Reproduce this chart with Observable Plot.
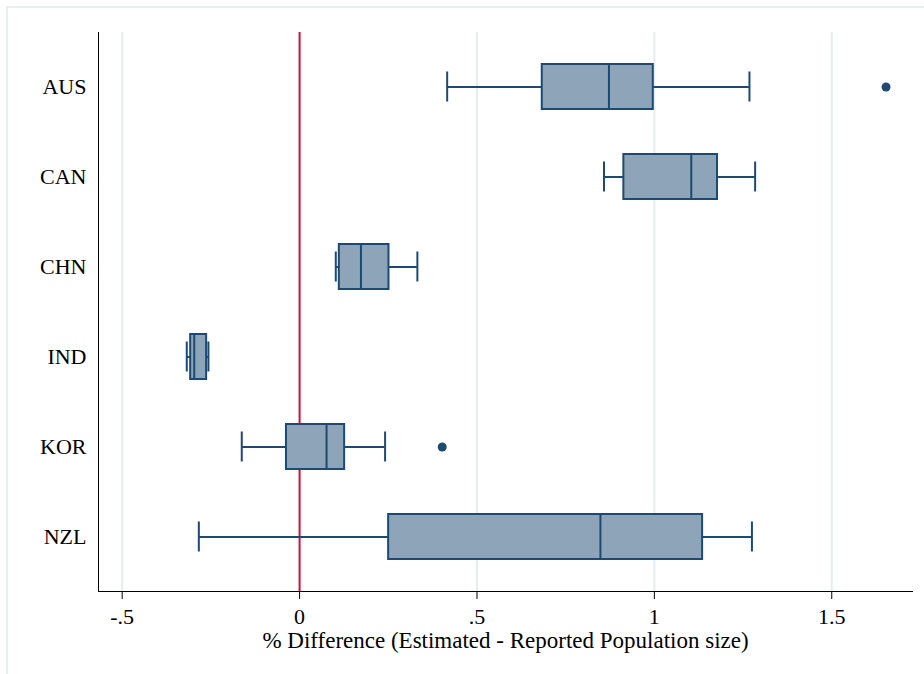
<!DOCTYPE html>
<html>
<head>
<meta charset="utf-8">
<script src="https://cdn.jsdelivr.net/npm/d3@7"></script>
<script src="https://cdn.jsdelivr.net/npm/@observablehq/plot@0.6"></script>
<style>
  html, body { margin: 0; padding: 0; background: #fff; overflow: hidden; }
  #border { position: absolute; left: 6px; top: 6px; width: 2000px; height: 2000px; border: 2px solid #e8eff2; }
  #chart { position: absolute; left: 0; top: 0; }
  #chart svg, #chart svg text { font-family: "Liberation Serif", Tinos, "Times New Roman", serif !important; font-size: 22px; fill: #000; }
  #chart svg text.title { font-size: 23px; }
</style>
</head>
<body>
<div id="border"></div>
<div id="chart"></div>
<script>
const countries = ["AUS", "CAN", "CHN", "IND", "KOR", "NZL"];
const whiskerLow = [0.416, 0.858, 0.102, -0.318, -0.163, -0.284];
const q1 = [0.684, 0.914, 0.112, -0.307, -0.037, 0.251];
const median = [0.872, 1.104, 0.173, -0.297, 0.076, 0.848];
const q3 = [0.997, 1.178, 0.252, -0.262, 0.127, 1.136];
const whiskerHigh = [1.268, 1.284, 0.332, -0.257, 0.241, 1.275];
const outlierCountries = ["AUS", "KOR"];
const outlierValues = [1.653, 0.402];
const xTicks = [-0.5, 0, 0.5, 1, 1.5];
const xTickLabels = ["-.5", "0", ".5", "1", "1.5"];
const gridValues = [-0.5, 0.5, 1, 1.5];
const xTitle = "% Difference (Estimated - Reported Population size)";

const boxes = countries.map((c, i) => ({
  country: c, lo: whiskerLow[i], q1: q1[i], med: median[i], q3: q3[i], hi: whiskerHigh[i]
}));
const outliers = outlierCountries.map((c, i) => ({country: c, value: outlierValues[i]}));

const navy = "#1c4a72";
const fill = "#8ea4b9";

const chart = Plot.plot({
  width: 924,
  height: 674,
  marginLeft: 98,
  marginRight: 12,
  marginTop: 32,
  marginBottom: 83,
  style: {fontSize: "22px", color: "#000", background: "transparent"},
  x: {
    domain: [-0.5668, 1.7276],
    ticks: xTicks,
    tickFormat: (d) => xTickLabels[xTicks.indexOf(d)],
    tickSize: 8,
    tickPadding: 9,
    line: true,
    label: null
  },
  y: {
    domain: countries,
    type: "band",
    paddingInner: 0.5,
    paddingOuter: 0.355,
    tickSize: 0,
    tickPadding: 12,
    line: true,
    label: null
  },
  marks: [
    Plot.ruleX(gridValues, {stroke: "#e4eef1", strokeWidth: 2}),
    Plot.ruleX([0], {stroke: "#c8143c", strokeWidth: 2}),
    Plot.ruleY(boxes, {y: "country", x1: "lo", x2: "q1", stroke: navy, strokeWidth: 2}),
    Plot.ruleY(boxes, {y: "country", x1: "q3", x2: "hi", stroke: navy, strokeWidth: 2}),
    Plot.tickX(boxes, {x: "lo", y: "country", stroke: navy, strokeWidth: 2, insetTop: 7.5, insetBottom: 7.5}),
    Plot.tickX(boxes, {x: "hi", y: "country", stroke: navy, strokeWidth: 2, insetTop: 7.5, insetBottom: 7.5}),
    Plot.barX(boxes, {y: "country", x1: "q1", x2: "q3", fill: fill, stroke: navy, strokeWidth: 2}),
    Plot.tickX(boxes, {x: "med", y: "country", stroke: navy, strokeWidth: 2}),
    Plot.dot(outliers, {x: "value", y: "country", r: 4.5, fill: navy, stroke: "none"}),
    Plot.text([xTitle], {frameAnchor: "bottom", textAnchor: "middle", lineAnchor: "middle", dy: 49, fill: "#000", className: "title"})
  ]
});
chart.querySelectorAll("g[aria-label='text'] text").forEach(t => t.classList.add("title"));
document.getElementById("chart").appendChild(chart);
</script>
</body>
</html>
